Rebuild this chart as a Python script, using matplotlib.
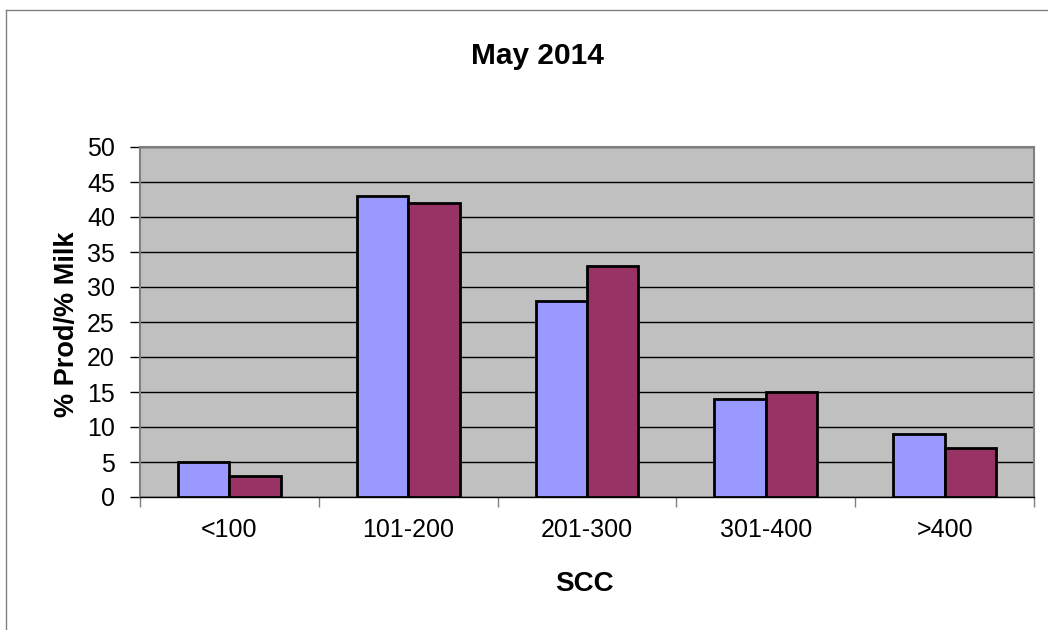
import matplotlib
matplotlib.use("Agg")
import matplotlib.pyplot as plt
import numpy as np
from matplotlib.lines import Line2D

categories = ["<100", "101-200", "201-300", "301-400", ">400"]
prod_pct = [5, 43, 28, 14, 9]
milk_pct = [3, 42, 33, 15, 7]
yticks = [0, 5, 10, 15, 20, 25, 30, 35, 40, 45, 50]

plt.rcParams['font.family'] = ['Liberation Sans', 'DejaVu Sans']

W, H = 1048, 630
fig = plt.figure(figsize=(W/100, H/100), dpi=100)
ax = fig.add_axes([140/W, 1-497/H, (1034-140)/W, (497-147)/H])
ax.set_facecolor('#C0C0C0')

x = np.arange(len(categories))
w = 0.288
ax.bar(x - w/2, prod_pct, width=w, color='#9999FF', edgecolor='black', linewidth=2, zorder=3)
ax.bar(x + w/2, milk_pct, width=w, color='#993366', edgecolor='black', linewidth=2, zorder=3)

ax.set_xlim(-0.5, len(categories) - 0.5)
ax.set_ylim(0, 50)
ax.set_yticks(yticks)
ax.yaxis.grid(True, color='black', linewidth=1, zorder=1)
ax.set_axisbelow(True)

ax.set_xticks(x)
ax.set_xticklabels(categories, fontsize=18)
ax.tick_params(axis='x', length=0, pad=15)
ax.set_xticks(np.arange(-0.5, len(categories)), minor=True)
ax.tick_params(axis='x', which='minor', length=7, width=1, color='#808080', direction='out')
ax.tick_params(axis='y', labelsize=18, length=7, width=1, color='black', direction='out', pad=11)

for s in ['top', 'right', 'left']:
    ax.spines[s].set_color('#808080')
    ax.spines[s].set_linewidth(1.5)
ax.spines['bottom'].set_color('black')
ax.spines['bottom'].set_linewidth(1)

fig.text(584/W, 1 - 584/H, "SCC", fontsize=20, fontweight='bold', ha='center', va='center')
fig.text(67/W, 1 - 324/H, "% Prod/% Milk", fontsize=19.5, fontweight='bold',
         ha='center', va='center', rotation=90)
fig.text(537/W, 1 - 56/H, "May 2014", fontsize=21.5, fontweight='bold',
         ha='center', va='center')

# outer chart border (left and top visible)
fig.add_artist(Line2D([6/W, 6/W], [0, 1 - 10/H], transform=fig.transFigure, color='#808080', linewidth=1))
fig.add_artist(Line2D([6/W, 1], [1 - 10/H, 1 - 10/H], transform=fig.transFigure, color='#808080', linewidth=1))

fig.savefig("out.png", dpi=100)
